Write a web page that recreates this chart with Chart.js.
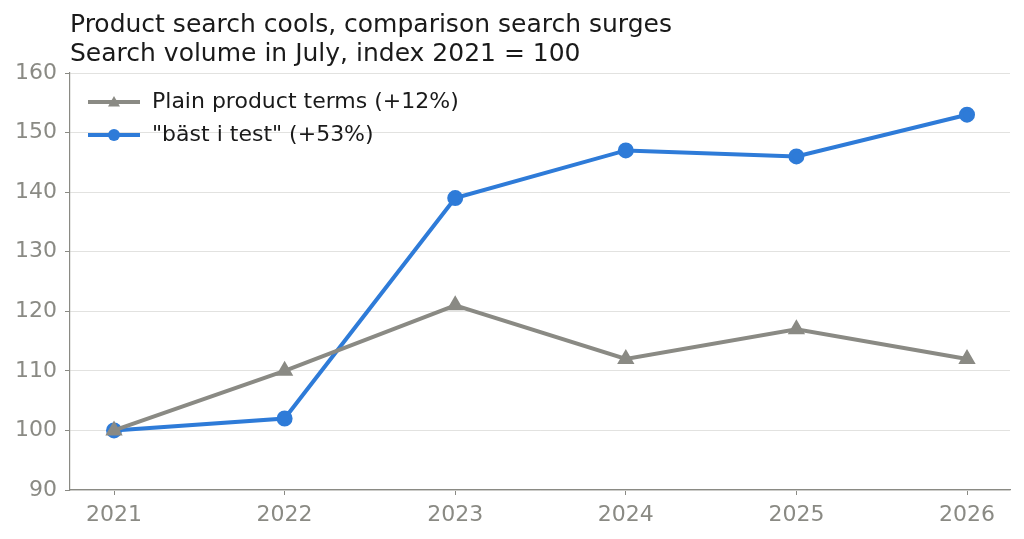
<!DOCTYPE html>
<html><head><meta charset="utf-8">
<script src="https://cdn.jsdelivr.net/npm/chart.js@4/dist/chart.umd.min.js"></script>
<style>html,body{margin:0;padding:0;background:#fff}#wrap{width:1024px;height:539px}</style>
</head><body><div id="wrap"><canvas id="c" width="1024" height="539"></canvas></div>
<script>
const years = [2021, 2022, 2023, 2024, 2025, 2026];
const plainTerms = [100, 110, 121, 112, 117, 112];
const bastITest = [100, 102, 139, 147, 146, 153];
const seriesNames = ["Plain product terms (+12%)", "\"bäst i test\" (+53%)"];
const titleLines = ["Product search cools, comparison search surges", "Search volume in July, index 2021 = 100"];
const yTicks = [90, 100, 110, 120, 130, 140, 150, 160];

const GRAY = '#8a8a84';
const BLUE = '#2e7bd8';
const FONT = "'DejaVu Sans', sans-serif";

const titlePlugin = {
  id: 'customTitle',
  afterDraw(chart) {
    const ctx = chart.ctx, a = chart.chartArea;
    ctx.save();
    ctx.fillStyle = '#1a1a1a';
    ctx.font = '25px ' + FONT;
    ctx.textBaseline = 'alphabetic';
    ctx.textAlign = 'left';
    ctx.fillText(titleLines[0], a.left, 32);
    ctx.fillText(titleLines[1], a.left, 61);
    ctx.restore();
  }
};

const legendPlugin = {
  id: 'innerLegend',
  afterDraw(chart) {
    const ctx = chart.ctx, a = chart.chartArea;
    ctx.save();
    chart.data.datasets.forEach((ds, i) => {
      const y = a.top + 29 + i * 33;
      const x0 = a.left + 18, x1 = a.left + 70;
      ctx.strokeStyle = ds.borderColor;
      ctx.lineWidth = 4;
      ctx.beginPath(); ctx.moveTo(x0, y); ctx.lineTo(x1, y); ctx.stroke();
      ctx.fillStyle = ds.borderColor;
      const cx = (x0 + x1) / 2, r = 6;
      ctx.beginPath();
      if (ds.pointStyle === 'triangle') {
        ctx.moveTo(cx, y - r); ctx.lineTo(cx + r, y + r * 0.75); ctx.lineTo(cx - r, y + r * 0.75); ctx.closePath();
      } else {
        ctx.arc(cx, y, r, 0, Math.PI * 2);
      }
      ctx.fill();
      ctx.fillStyle = '#1a1a1a';
      ctx.font = '22px ' + FONT;
      ctx.textBaseline = 'middle';
      ctx.textAlign = 'left';
      ctx.fillText(ds.label, a.left + 82, y);
    });
    ctx.restore();
  }
};

new Chart(document.getElementById('c'), {
  type: 'line',
  data: {
    datasets: [
      { label: seriesNames[0], data: years.map((y, i) => ({x: y, y: plainTerms[i]})),
        borderColor: GRAY, backgroundColor: GRAY, borderWidth: 4, pointStyle: 'triangle',
        pointRadius: 6, pointHoverRadius: 6, tension: 0 },
      { label: seriesNames[1], data: years.map((y, i) => ({x: y, y: bastITest[i]})),
        borderColor: BLUE, backgroundColor: BLUE, borderWidth: 4, pointStyle: 'circle',
        pointRadius: 6, pointHoverRadius: 6, tension: 0 }
    ]
  },
  options: {
    responsive: false, animation: false,
    layout: { padding: { top: 73, right: 14, left: 0, bottom: 0 } },
    plugins: { legend: { display: false }, title: { display: false }, tooltip: { enabled: false } },
    scales: {
      x: {
        type: 'linear', min: 2020.742, max: 2026.252,
        afterBuildTicks: s => { s.ticks = years.map(v => ({ value: v })); },
        afterFit: s => { s.height = 49; },
        ticks: { color: GRAY, font: { family: FONT, size: 22 }, padding: 7, callback: v => String(v), maxRotation: 0 },
        grid: { drawOnChartArea: false, drawTicks: true, tickLength: 5, tickColor: GRAY },
        border: { color: GRAY, width: 1.2 }
      },
      y: {
        min: 90, max: 160,
        afterBuildTicks: s => { s.ticks = yTicks.map(v => ({ value: v })); },
        afterFit: s => { s.width = 70; },
        ticks: { color: GRAY, font: { family: FONT, size: 22 }, padding: 8 },
        grid: { color: '#e2e2e0', lineWidth: 1, drawTicks: true, tickLength: 5, tickColor: GRAY },
        border: { color: GRAY, width: 1.2 }
      }
    }
  },
  plugins: [titlePlugin, legendPlugin]
});
</script></body></html>
